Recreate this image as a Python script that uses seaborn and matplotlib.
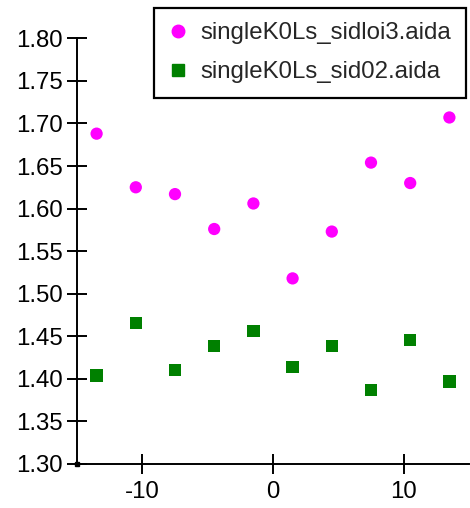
import matplotlib
matplotlib.use("Agg")
import matplotlib.pyplot as plt
from matplotlib.lines import Line2D
import seaborn as sns
import pandas as pd

# Bin centres and per-bin values for the two detector configurations
x_bins = [-13.5, -10.5, -7.5, -4.5, -1.5, 1.5, 4.5, 7.5, 10.5, 13.5]
sidloi3 = [1.688, 1.625, 1.617, 1.576, 1.606, 1.518, 1.573, 1.654, 1.630, 1.707]
sid02 = [1.404, 1.466, 1.410, 1.439, 1.456, 1.414, 1.439, 1.387, 1.446, 1.397]
series_names = ["singleK0Ls_sidloi3.aida", "singleK0Ls_sid02.aida"]
y_ticks = [1.30, 1.35, 1.40, 1.45, 1.50, 1.55, 1.60, 1.65, 1.70, 1.75, 1.80]
x_ticks = [-10, 0, 10]

df = pd.DataFrame({
    "x": x_bins * 2,
    "y": sidloi3 + sid02,
    "file": [series_names[0]] * len(x_bins) + [series_names[1]] * len(x_bins),
})

sns.set_style("ticks")
plt.rcParams["font.family"] = ["Liberation Sans", "DejaVu Sans"]
plt.rcParams["axes.unicode_minus"] = False

FS = 17.3

fig = plt.figure(figsize=(4.70, 5.08), dpi=100)
ax = fig.add_axes([77 / 470, 1 - 464 / 508, (469 - 77) / 470, (464 - 38.3) / 508])

sns.scatterplot(
    data=df, x="x", y="y", hue="file", style="file",
    palette={series_names[0]: "#ff00ff", series_names[1]: "#008000"},
    markers={series_names[0]: "o", series_names[1]: "s"},
    s=78, linewidth=0, ax=ax, legend=False,
)

ax.set_xlim(-15, 15)
ax.set_ylim(1.30, 1.80)
ax.set_xticks(x_ticks)
ax.set_yticks(y_ticks)
ax.set_yticklabels([f"{v:.2f}" for v in y_ticks])
ax.set_xlabel("")
ax.set_ylabel("")

for side in ("top", "right"):
    ax.spines[side].set_visible(False)
for side in ("left", "bottom"):
    ax.spines[side].set_linewidth(1.4)
    ax.spines[side].set_color("black")

ax.tick_params(axis="both", direction="inout", length=15, width=1.4,
               color="black", labelsize=FS, labelcolor="black", pad=3)
ax.tick_params(axis="x", pad=5)

# small marker at the axis origin
ax.plot([ax.get_xlim()[0]], [ax.get_ylim()[0]], marker="s", color="black",
        markersize=3, clip_on=False, zorder=5)

handles = [
    Line2D([], [], linestyle="none", marker="o", color="#ff00ff", markersize=9),
    Line2D([], [], linestyle="none", marker="s", color="#008000", markersize=9),
]
leg = fig.legend(handles, series_names, loc="upper right",
                 bbox_to_anchor=(466 / 470, 1 - 8 / 508),
                 frameon=True, fancybox=False, framealpha=1, fontsize=FS,
                 handlelength=0.8, handletextpad=0.55, borderpad=0.6,
                 labelspacing=0.7, borderaxespad=0.0)
leg.get_frame().set_edgecolor("black")
leg.get_frame().set_linewidth(1.6)

fig.savefig("out.png", dpi=100)
